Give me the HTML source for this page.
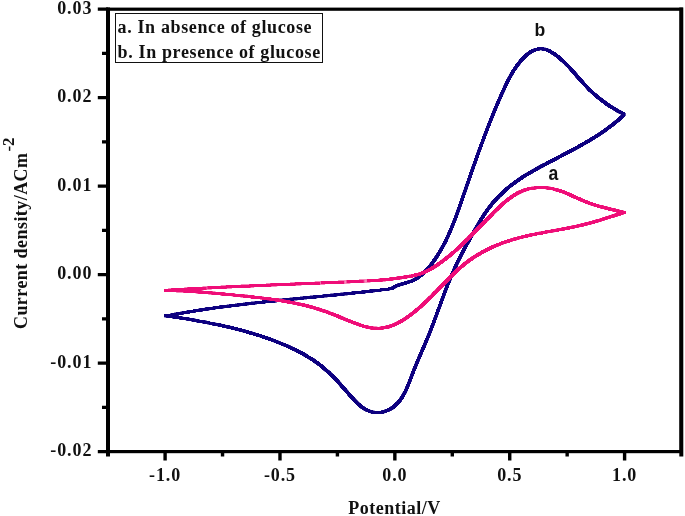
<!DOCTYPE html>
<html><head><meta charset="utf-8"><title>Cyclic voltammogram</title>
<style>
html,body{margin:0;padding:0;background:#fff}
svg{display:block;will-change:transform}
.s{font-family:"Liberation Serif",serif;font-weight:bold;font-size:18px;fill:#111}
.t{letter-spacing:.9px}
.a{font-family:"Liberation Sans",sans-serif;font-weight:bold;font-size:17.6px;fill:#111}
</style></head><body>
<svg width="685" height="516" viewBox="0 0 685 516">
<rect width="685" height="516" fill="#fff"/>
<rect x="108.00" y="9.20" width="573.30" height="442.40" fill="none" stroke="#000" stroke-width="3.2"/>
<path d="M108.00 7.60V456.5M681.30 7.60V456.5" stroke="#000" stroke-width="4" fill="none"/>
<path d="M97.8 9.20H108.00M102 53.44H108.00M97.8 97.68H108.00M102 141.92H108.00M97.8 186.16H108.00M102 230.40H108.00M97.8 274.64H108.00M102 318.88H108.00M97.8 363.12H108.00M102 407.36H108.00M97.8 451.60H108.00" stroke="#000" stroke-width="3.3" fill="none"/>
<path d="M165.10 451.60V460.6M222.54 451.60V456.5M279.98 451.60V460.6M337.41 451.60V456.5M394.85 451.60V460.6M452.29 451.60V456.5M509.73 451.60V460.6M567.16 451.60V456.5M624.60 451.60V460.6" stroke="#000" stroke-width="3.4" fill="none"/>
<filter id="sq" x="-5%" y="-5%" width="110%" height="110%"><feComponentTransfer><feFuncA type="linear" slope="4" intercept="-1.5"/></feComponentTransfer><feMorphology operator="dilate" radius="1"/></filter>
<path d="M165.6 315.8C166.3 315.7 168.3 315.5 169.7 315.3C171.0 315.1 172.3 314.8 173.7 314.6C175.0 314.3 176.4 314.1 177.7 313.8C179.0 313.6 180.4 313.3 181.7 313.1C183.1 312.9 184.4 312.6 185.7 312.4C187.1 312.2 188.4 311.9 189.8 311.7C191.1 311.5 192.5 311.3 193.8 311.1C195.2 310.8 196.5 310.6 197.8 310.4C199.2 310.2 200.5 310.0 201.9 309.8C203.2 309.6 204.6 309.4 205.9 309.2C207.3 309.0 208.6 308.8 210.0 308.6C211.3 308.4 212.7 308.2 214.0 308.0C215.4 307.8 216.7 307.6 218.1 307.5C219.4 307.3 220.8 307.1 222.1 306.9C223.5 306.7 224.8 306.6 226.2 306.4C227.5 306.2 228.9 306.0 230.2 305.9C231.6 305.7 232.9 305.5 234.3 305.3C235.6 305.2 237.0 305.0 238.3 304.9C239.7 304.7 241.0 304.5 242.4 304.4C243.7 304.2 245.1 304.0 246.4 303.9C247.8 303.7 249.1 303.6 250.5 303.4C251.8 303.3 253.2 303.1 254.5 303.0C255.9 302.8 257.2 302.7 258.6 302.5C260.0 302.4 261.3 302.2 262.7 302.1C264.0 301.9 265.4 301.8 266.7 301.7C268.1 301.5 269.4 301.4 270.8 301.2C272.1 301.1 273.5 301.0 274.8 300.8C276.2 300.7 277.6 300.5 278.9 300.4C280.3 300.3 281.6 300.1 283.0 300.0C284.3 299.9 285.7 299.7 287.0 299.6C288.4 299.5 289.8 299.3 291.1 299.2C292.5 299.1 293.8 298.9 295.2 298.8C296.5 298.7 297.9 298.5 299.2 298.4C300.6 298.3 302.0 298.1 303.3 298.0C304.7 297.9 306.0 297.7 307.4 297.6C308.7 297.5 310.1 297.3 311.4 297.2C312.8 297.1 314.2 297.0 315.5 296.8C316.9 296.7 318.2 296.6 319.6 296.4C320.9 296.3 322.3 296.2 323.6 296.0C325.0 295.9 326.3 295.8 327.7 295.6C329.1 295.5 330.4 295.4 331.8 295.2C333.1 295.1 334.5 295.0 335.8 294.8C337.2 294.7 338.5 294.6 339.9 294.4C341.3 294.3 342.6 294.1 344.0 294.0C345.3 293.9 346.7 293.7 348.0 293.6C349.4 293.4 350.7 293.3 352.1 293.2C353.4 293.0 354.8 292.9 356.1 292.7C357.5 292.6 358.9 292.4 360.2 292.3C361.6 292.1 362.9 292.0 364.3 291.8C365.6 291.7 367.0 291.5 368.3 291.4C369.7 291.2 371.0 291.1 372.4 290.9C373.7 290.8 375.1 290.6 376.4 290.5C377.8 290.3 379.1 290.1 380.5 290.0C381.8 289.8 383.2 289.6 384.5 289.5C385.9 289.3 387.2 289.2 388.6 289.0C389.9 288.7 391.9 288.2 392.6 288.1C393.2 287.8 394.8 286.6 396.0 286.0C397.2 285.5 398.5 285.1 399.8 284.6C401.1 284.2 402.5 283.9 403.8 283.5C405.1 283.1 406.5 282.7 407.8 282.3C409.1 281.9 410.4 281.5 411.7 281.0C412.9 280.4 414.2 279.9 415.3 279.2C416.5 278.6 417.6 277.9 418.7 277.1C419.8 276.3 420.9 275.5 421.9 274.6C422.9 273.8 423.9 272.8 424.8 271.9C425.8 270.9 426.7 270.0 427.6 268.9C428.5 267.9 429.3 266.9 430.2 265.8C431.0 264.8 431.8 263.7 432.6 262.6C433.4 261.5 434.2 260.4 435.0 259.3C435.7 258.2 436.5 257.1 437.2 256.0C437.9 254.8 438.6 253.7 439.3 252.5C440.0 251.4 440.7 250.2 441.4 249.1C442.0 247.9 442.7 246.7 443.3 245.5C443.9 244.4 444.5 243.2 445.2 242.0C445.8 240.8 446.3 239.6 446.9 238.3C447.5 237.1 448.1 235.9 448.6 234.7C449.2 233.5 449.7 232.2 450.3 231.0C450.8 229.7 451.3 228.5 451.8 227.2C452.3 226.0 452.8 224.7 453.3 223.5C453.8 222.2 454.3 221.0 454.8 219.7C455.3 218.4 455.8 217.1 456.3 215.9C456.7 214.6 457.2 213.3 457.7 212.0C458.1 210.8 458.6 209.5 459.0 208.2C459.5 206.9 459.9 205.6 460.4 204.3C460.8 203.1 461.3 201.8 461.7 200.5C462.2 199.2 462.6 197.9 463.0 196.6C463.5 195.3 463.9 194.0 464.4 192.8C464.8 191.5 465.3 190.2 465.7 188.9C466.1 187.6 466.6 186.3 467.0 185.0C467.5 183.8 467.9 182.5 468.4 181.2C468.8 179.9 469.3 178.6 469.7 177.4C470.1 176.1 470.6 174.8 471.0 173.5C471.5 172.2 471.9 171.0 472.4 169.7C472.8 168.4 473.3 167.1 473.7 165.8C474.2 164.6 474.6 163.3 475.1 162.0C475.5 160.7 476.0 159.5 476.4 158.2C476.9 156.9 477.4 155.6 477.8 154.4C478.3 153.1 478.7 151.8 479.2 150.6C479.7 149.3 480.1 148.0 480.6 146.7C481.0 145.5 481.5 144.2 482.0 142.9C482.4 141.7 482.9 140.4 483.4 139.1C483.9 137.9 484.3 136.6 484.8 135.4C485.3 134.1 485.8 132.8 486.3 131.6C486.7 130.3 487.2 129.1 487.7 127.8C488.2 126.5 488.7 125.3 489.2 124.0C489.7 122.8 490.2 121.5 490.7 120.3C491.2 119.0 491.7 117.8 492.2 116.5C492.7 115.3 493.2 114.0 493.7 112.8C494.2 111.5 494.7 110.3 495.3 109.0C495.8 107.8 496.3 106.5 496.8 105.3C497.3 104.1 497.9 102.8 498.4 101.6C498.9 100.3 499.5 99.1 500.0 97.9C500.6 96.6 501.1 95.4 501.6 94.2C502.2 92.9 502.7 91.7 503.3 90.5C503.9 89.3 504.4 88.0 505.0 86.8C505.6 85.6 506.1 84.4 506.7 83.2C507.3 81.9 507.9 80.7 508.6 79.5C509.2 78.3 509.8 77.1 510.5 76.0C511.1 74.8 511.8 73.6 512.5 72.4C513.2 71.3 513.9 70.1 514.7 69.0C515.4 67.8 516.2 66.7 517.0 65.6C517.9 64.5 518.7 63.4 519.6 62.3C520.5 61.2 521.4 60.2 522.3 59.1C523.3 58.1 524.3 57.1 525.3 56.1C526.3 55.2 527.4 54.3 528.5 53.5C529.6 52.6 530.7 51.9 531.8 51.3C533.0 50.6 534.1 50.1 535.3 49.7C536.5 49.3 537.7 49.0 539.0 48.8C540.2 48.7 541.5 48.7 542.7 48.9C544.0 49.0 545.3 49.4 546.5 49.8C547.8 50.2 549.0 50.8 550.2 51.4C551.4 52.1 552.6 52.8 553.7 53.6C554.9 54.4 556.0 55.2 557.1 56.1C558.2 56.9 559.2 57.8 560.3 58.7C561.3 59.6 562.3 60.5 563.3 61.4C564.3 62.4 565.3 63.3 566.2 64.3C567.2 65.2 568.1 66.2 569.1 67.2C570.0 68.2 570.9 69.2 571.8 70.2C572.7 71.2 573.6 72.2 574.5 73.2C575.4 74.2 576.3 75.3 577.2 76.3C578.1 77.3 579.0 78.3 579.9 79.3C580.8 80.4 581.7 81.4 582.6 82.4C583.5 83.4 584.4 84.4 585.3 85.4C586.2 86.4 587.2 87.3 588.1 88.3C589.1 89.3 590.0 90.2 591.0 91.1C592.0 92.1 593.0 93.0 594.0 93.9C595.0 94.8 596.0 95.7 597.0 96.6C598.1 97.4 599.1 98.3 600.2 99.1C601.3 99.9 602.3 100.8 603.4 101.6C604.5 102.4 605.6 103.2 606.7 103.9C607.8 104.7 609.0 105.5 610.1 106.2C611.2 106.9 612.4 107.6 613.5 108.3C614.7 109.0 615.9 109.7 617.0 110.4C618.2 111.1 619.4 111.7 620.6 112.4C621.8 113.0 623.6 113.9 624.2 114.2C623.7 114.7 622.4 116.3 621.5 117.2C620.5 118.2 619.5 119.0 618.5 119.9C617.4 120.8 616.4 121.6 615.4 122.5C614.3 123.3 613.3 124.2 612.2 125.0C611.2 125.8 610.1 126.6 609.0 127.4C608.0 128.2 606.9 129.0 605.8 129.8C604.7 130.6 603.6 131.3 602.5 132.1C601.4 132.8 600.3 133.6 599.2 134.3C598.1 135.1 596.9 135.8 595.8 136.5C594.7 137.2 593.6 137.9 592.4 138.6C591.3 139.3 590.1 140.0 589.0 140.7C587.8 141.4 586.7 142.1 585.5 142.7C584.3 143.4 583.2 144.1 582.0 144.7C580.8 145.4 579.7 146.1 578.5 146.7C577.3 147.4 576.1 148.0 574.9 148.7C573.8 149.3 572.6 149.9 571.4 150.6C570.2 151.2 569.0 151.8 567.8 152.5C566.6 153.1 565.4 153.7 564.2 154.3C563.0 155.0 561.8 155.6 560.6 156.2C559.5 156.8 558.3 157.4 557.1 158.1C555.9 158.7 554.7 159.3 553.5 159.9C552.3 160.6 551.1 161.2 549.9 161.8C548.7 162.4 547.5 163.0 546.3 163.7C545.1 164.3 543.9 164.9 542.7 165.6C541.5 166.2 540.3 166.8 539.1 167.5C538.0 168.1 536.8 168.7 535.6 169.4C534.4 170.1 533.3 170.7 532.1 171.4C530.9 172.1 529.8 172.7 528.6 173.4C527.5 174.1 526.3 174.8 525.2 175.5C524.0 176.2 522.9 176.9 521.8 177.7C520.7 178.4 519.6 179.1 518.5 179.9C517.3 180.6 516.3 181.4 515.2 182.2C514.1 183.0 513.0 183.8 512.0 184.6C510.9 185.4 509.9 186.3 508.8 187.1C507.8 188.0 506.8 188.9 505.8 189.7C504.8 190.6 503.8 191.5 502.8 192.5C501.8 193.4 500.9 194.3 499.9 195.3C499.0 196.2 498.1 197.2 497.1 198.2C496.2 199.2 495.3 200.2 494.4 201.2C493.5 202.2 492.7 203.2 491.8 204.2C491.0 205.3 490.1 206.3 489.3 207.4C488.5 208.5 487.7 209.5 486.9 210.6C486.1 211.7 485.4 212.8 484.6 213.9C483.9 215.0 483.1 216.2 482.4 217.3C481.7 218.4 480.9 219.6 480.2 220.7C479.5 221.9 478.9 223.0 478.2 224.2C477.5 225.3 476.8 226.5 476.1 227.7C475.5 228.8 474.8 230.0 474.1 231.2C473.5 232.3 472.8 233.5 472.2 234.7C471.5 235.9 470.9 237.0 470.2 238.2C469.6 239.4 468.9 240.6 468.3 241.7C467.6 242.9 467.0 244.1 466.3 245.3C465.7 246.4 465.1 247.6 464.4 248.8C463.8 250.0 463.2 251.1 462.6 252.3C461.9 253.5 461.3 254.7 460.7 255.9C460.1 257.1 459.5 258.3 458.9 259.5C458.3 260.7 457.7 261.9 457.1 263.1C456.6 264.3 456.0 265.5 455.4 266.7C454.9 267.9 454.3 269.1 453.8 270.4C453.2 271.6 452.7 272.8 452.1 274.1C451.6 275.3 451.1 276.5 450.6 277.8C450.0 279.0 449.5 280.3 449.0 281.5C448.5 282.8 448.0 284.0 447.5 285.3C447.0 286.5 446.5 287.8 446.0 289.0C445.6 290.3 445.1 291.6 444.6 292.8C444.1 294.1 443.6 295.3 443.2 296.6C442.7 297.9 442.2 299.1 441.8 300.4C441.3 301.7 440.8 302.9 440.4 304.2C439.9 305.5 439.4 306.7 439.0 308.0C438.5 309.3 438.0 310.5 437.6 311.8C437.1 313.1 436.6 314.3 436.2 315.6C435.7 316.9 435.2 318.1 434.8 319.4C434.3 320.7 433.8 321.9 433.4 323.2C432.9 324.4 432.4 325.7 431.9 326.9C431.4 328.2 431.0 329.4 430.5 330.7C430.0 331.9 429.5 333.1 429.0 334.4C428.5 335.6 428.0 336.8 427.5 338.1C427.0 339.3 426.5 340.5 425.9 341.8C425.4 343.0 424.9 344.2 424.4 345.4C423.9 346.6 423.3 347.9 422.8 349.1C422.3 350.3 421.8 351.5 421.2 352.7C420.7 354.0 420.2 355.2 419.6 356.4C419.1 357.6 418.6 358.9 418.1 360.1C417.5 361.3 417.0 362.6 416.5 363.8C416.0 365.1 415.5 366.3 415.0 367.6C414.4 368.8 413.9 370.1 413.4 371.4C412.9 372.6 412.4 373.9 411.9 375.2C411.4 376.5 411.0 377.8 410.5 379.1C410.0 380.4 409.5 381.7 409.0 382.9C408.5 384.2 408.0 385.5 407.4 386.8C406.9 388.0 406.3 389.3 405.8 390.5C405.2 391.8 404.6 393.0 403.9 394.1C403.3 395.3 402.6 396.5 401.9 397.6C401.2 398.7 400.4 399.8 399.6 400.8C398.8 401.8 398.0 402.8 397.0 403.7C396.1 404.7 395.1 405.6 394.1 406.4C393.0 407.2 391.9 408.0 390.8 408.7C389.6 409.4 388.4 410.0 387.2 410.5C385.9 411.0 384.6 411.5 383.3 411.8C382.0 412.1 380.7 412.4 379.4 412.5C378.1 412.6 376.7 412.6 375.4 412.5C374.1 412.3 372.8 412.1 371.5 411.8C370.3 411.4 369.0 411.0 367.8 410.5C366.6 410.0 365.5 409.4 364.4 408.7C363.3 408.0 362.2 407.3 361.1 406.5C360.1 405.7 359.1 404.8 358.1 403.9C357.1 403.0 356.1 402.0 355.1 401.0C354.2 400.1 353.2 399.0 352.3 398.0C351.4 397.0 350.5 395.9 349.5 394.9C348.6 393.8 347.7 392.7 346.8 391.7C345.9 390.7 345.0 389.6 344.1 388.6C343.2 387.5 342.3 386.5 341.4 385.5C340.5 384.5 339.6 383.5 338.6 382.5C337.7 381.5 336.8 380.5 335.9 379.5C335.0 378.6 334.0 377.6 333.1 376.7C332.1 375.7 331.2 374.8 330.2 373.9C329.3 373.0 328.3 372.1 327.3 371.2C326.3 370.3 325.3 369.4 324.3 368.5C323.3 367.7 322.3 366.8 321.3 366.0C320.2 365.2 319.2 364.4 318.1 363.6C317.0 362.8 315.9 362.0 314.9 361.3C313.8 360.5 312.7 359.8 311.5 359.1C310.4 358.3 309.3 357.6 308.1 356.9C307.0 356.2 305.9 355.5 304.7 354.9C303.5 354.2 302.4 353.5 301.2 352.9C300.0 352.3 298.8 351.6 297.6 351.0C296.4 350.4 295.2 349.8 294.0 349.2C292.8 348.6 291.6 348.0 290.3 347.5C289.1 346.9 287.9 346.4 286.6 345.8C285.4 345.3 284.1 344.7 282.9 344.2C281.6 343.7 280.4 343.2 279.1 342.7C277.9 342.2 276.6 341.7 275.4 341.2C274.1 340.7 272.8 340.2 271.6 339.8C270.3 339.3 269.0 338.8 267.8 338.4C266.5 337.9 265.2 337.5 263.9 337.1C262.7 336.6 261.4 336.2 260.1 335.8C258.8 335.4 257.5 335.0 256.3 334.6C255.0 334.2 253.7 333.8 252.4 333.4C251.1 333.0 249.8 332.6 248.5 332.3C247.2 331.9 246.0 331.5 244.7 331.2C243.4 330.8 242.1 330.5 240.8 330.1C239.5 329.8 238.2 329.4 236.9 329.1C235.6 328.8 234.3 328.4 233.0 328.1C231.7 327.8 230.4 327.5 229.1 327.2C227.7 326.9 226.4 326.6 225.1 326.3C223.8 326.0 222.5 325.7 221.2 325.4C219.9 325.1 218.6 324.8 217.3 324.6C215.9 324.3 214.6 324.0 213.3 323.8C212.0 323.5 210.7 323.2 209.4 323.0C208.0 322.7 206.7 322.5 205.4 322.2C204.1 322.0 202.8 321.7 201.4 321.5C200.1 321.2 198.8 321.0 197.5 320.8C196.2 320.5 194.8 320.3 193.5 320.1C192.2 319.8 190.9 319.6 189.5 319.4C188.2 319.2 186.9 319.0 185.5 318.7C184.2 318.5 182.9 318.3 181.6 318.1C180.2 317.9 178.9 317.7 177.6 317.5C176.3 317.3 174.9 317.1 173.6 316.9C172.3 316.7 170.9 316.4 169.6 316.3C168.3 316.1 166.3 315.9 165.6 315.8" fill="none" stroke="#0a0480" stroke-width="1.2" stroke-linejoin="round" stroke-linecap="round" filter="url(#sq)"/>
<path d="M165.6 290.5C166.3 290.4 168.3 290.3 169.6 290.2C171.0 290.1 172.3 290.0 173.7 289.9C175.0 289.8 176.4 289.8 177.7 289.7C179.1 289.6 180.4 289.5 181.8 289.4C183.1 289.3 184.5 289.3 185.8 289.2C187.2 289.1 188.5 289.0 189.9 288.9C191.2 288.9 192.6 288.8 193.9 288.7C195.3 288.6 196.6 288.6 198.0 288.5C199.3 288.4 200.7 288.3 202.0 288.3C203.4 288.2 204.7 288.1 206.1 288.0C207.4 288.0 208.8 287.9 210.1 287.8C211.5 287.7 212.8 287.7 214.2 287.6C215.5 287.5 216.9 287.5 218.2 287.4C219.6 287.3 220.9 287.3 222.3 287.2C223.6 287.1 225.0 287.1 226.3 287.0C227.7 286.9 229.0 286.9 230.4 286.8C231.7 286.7 233.1 286.7 234.4 286.6C235.8 286.6 237.1 286.5 238.5 286.4C239.8 286.4 241.2 286.3 242.5 286.2C243.8 286.2 245.2 286.1 246.5 286.1C247.9 286.0 249.2 285.9 250.6 285.9C251.9 285.8 253.3 285.8 254.6 285.7C256.0 285.7 257.3 285.6 258.7 285.5C260.0 285.5 261.4 285.4 262.7 285.4C264.1 285.3 265.4 285.2 266.8 285.2C268.1 285.1 269.5 285.1 270.8 285.0C272.2 285.0 273.5 284.9 274.9 284.9C276.2 284.8 277.6 284.7 278.9 284.7C280.3 284.6 281.6 284.6 283.0 284.5C284.3 284.5 285.7 284.4 287.0 284.4C288.4 284.3 289.7 284.2 291.1 284.2C292.4 284.1 293.8 284.1 295.1 284.0C296.5 284.0 297.8 283.9 299.2 283.9C300.5 283.8 301.9 283.7 303.2 283.7C304.6 283.6 305.9 283.6 307.3 283.5C308.6 283.5 310.0 283.4 311.4 283.4C312.7 283.3 314.1 283.2 315.4 283.2C316.8 283.1 318.1 283.1 319.5 283.0C320.8 283.0 322.2 282.9 323.5 282.8C324.9 282.8 326.2 282.7 327.6 282.7C328.9 282.6 330.3 282.6 331.6 282.5C333.0 282.4 334.3 282.4 335.7 282.3C337.0 282.3 338.4 282.2 339.7 282.1C341.1 282.1 342.4 282.0 343.8 282.0C345.1 281.9 346.5 281.8 347.8 281.8C349.2 281.7 350.5 281.6 351.9 281.6C353.2 281.5 354.6 281.4 355.9 281.4C357.3 281.3 358.6 281.2 360.0 281.2C361.3 281.1 362.6 281.0 364.0 281.0C365.3 280.9 366.7 280.8 368.0 280.8C369.4 280.7 370.7 280.6 372.1 280.6C373.4 280.5 374.8 280.4 376.1 280.3C377.4 280.3 378.8 280.2 380.1 280.1C381.5 280.0 382.8 279.9 384.2 279.8C385.5 279.7 386.8 279.5 388.2 279.4C389.5 279.2 390.9 279.1 392.2 278.9C393.5 278.7 394.9 278.5 396.2 278.3C397.6 278.2 398.9 278.0 400.3 277.8C401.6 277.6 402.9 277.4 404.3 277.2C405.6 277.0 406.9 276.7 408.3 276.5C409.6 276.3 410.9 276.0 412.2 275.8C413.5 275.5 414.8 275.3 416.1 274.9C417.4 274.6 418.7 274.3 420.0 273.9C421.2 273.5 422.5 273.0 423.7 272.5C425.0 272.0 426.2 271.4 427.4 270.8C428.6 270.2 429.8 269.6 431.0 268.9C432.2 268.2 433.4 267.5 434.5 266.8C435.7 266.0 436.8 265.3 437.9 264.5C439.1 263.7 440.2 262.9 441.3 262.1C442.4 261.3 443.5 260.4 444.6 259.6C445.6 258.8 446.7 257.9 447.8 257.1C448.8 256.2 449.9 255.3 450.9 254.5C451.9 253.6 452.9 252.7 454.0 251.9C455.0 251.0 456.0 250.1 457.0 249.2C458.0 248.3 458.9 247.4 459.9 246.5C460.9 245.6 461.9 244.7 462.8 243.7C463.8 242.8 464.8 241.9 465.7 241.0C466.7 240.0 467.6 239.1 468.6 238.2C469.5 237.2 470.5 236.3 471.4 235.3C472.4 234.4 473.3 233.4 474.2 232.5C475.2 231.5 476.1 230.6 477.0 229.6C478.0 228.7 478.9 227.7 479.9 226.7C480.8 225.8 481.7 224.8 482.7 223.8C483.6 222.9 484.6 221.9 485.5 220.9C486.4 219.9 487.4 219.0 488.3 218.0C489.3 217.0 490.3 216.0 491.2 215.1C492.2 214.1 493.1 213.1 494.1 212.1C495.1 211.2 496.1 210.2 497.1 209.2C498.1 208.3 499.1 207.3 500.1 206.4C501.1 205.4 502.1 204.5 503.1 203.6C504.2 202.7 505.2 201.8 506.3 200.9C507.3 200.1 508.4 199.2 509.5 198.4C510.6 197.6 511.7 196.8 512.8 196.1C513.9 195.3 515.0 194.6 516.2 194.0C517.3 193.3 518.5 192.7 519.7 192.1C520.9 191.5 522.1 191.0 523.3 190.5C524.6 190.1 525.8 189.7 527.1 189.3C528.4 188.9 529.7 188.6 531.0 188.4C532.3 188.1 533.7 187.9 535.0 187.8C536.3 187.6 537.7 187.5 539.0 187.5C540.4 187.5 541.7 187.5 543.1 187.5C544.5 187.6 545.8 187.7 547.2 187.9C548.5 188.0 549.8 188.2 551.2 188.5C552.5 188.7 553.8 189.0 555.1 189.4C556.4 189.7 557.7 190.1 559.0 190.5C560.3 190.9 561.5 191.4 562.8 191.8C564.1 192.3 565.3 192.8 566.6 193.3C567.8 193.9 569.1 194.4 570.3 194.9C571.5 195.5 572.8 196.1 574.0 196.6C575.3 197.2 576.5 197.7 577.7 198.3C579.0 198.9 580.2 199.4 581.5 200.0C582.7 200.5 584.0 201.0 585.2 201.5C586.5 202.1 587.7 202.6 589.0 203.0C590.3 203.5 591.5 203.9 592.8 204.3C594.1 204.8 595.4 205.2 596.7 205.5C598.0 205.9 599.3 206.3 600.6 206.6C601.9 207.0 603.2 207.3 604.5 207.7C605.8 208.0 607.1 208.3 608.4 208.6C609.8 209.0 611.1 209.3 612.4 209.6C613.7 209.9 615.0 210.2 616.3 210.6C617.6 210.9 618.9 211.2 620.2 211.5C621.6 211.9 623.5 212.3 624.2 212.4C623.6 212.6 621.7 213.3 620.4 213.7C619.1 214.1 617.8 214.5 616.5 214.9C615.3 215.3 614.0 215.7 612.7 216.1C611.4 216.5 610.1 216.9 608.8 217.3C607.6 217.7 606.3 218.1 605.0 218.5C603.7 218.9 602.4 219.3 601.1 219.8C599.9 220.2 598.6 220.6 597.3 220.9C596.0 221.3 594.7 221.7 593.4 222.1C592.1 222.5 590.8 222.8 589.5 223.2C588.2 223.5 586.9 223.9 585.6 224.2C584.3 224.5 583.0 224.8 581.7 225.1C580.4 225.4 579.1 225.7 577.8 226.0C576.5 226.3 575.1 226.6 573.8 226.9C572.5 227.1 571.2 227.4 569.9 227.7C568.5 227.9 567.2 228.2 565.9 228.4C564.6 228.7 563.3 228.9 561.9 229.2C560.6 229.4 559.3 229.6 558.0 229.9C556.6 230.1 555.3 230.4 554.0 230.6C552.6 230.8 551.3 231.1 550.0 231.3C548.7 231.6 547.3 231.8 546.0 232.0C544.7 232.3 543.4 232.5 542.0 232.8C540.7 233.0 539.4 233.3 538.1 233.5C536.8 233.8 535.4 234.1 534.1 234.3C532.8 234.6 531.5 234.9 530.2 235.2C528.9 235.5 527.6 235.8 526.2 236.1C524.9 236.4 523.6 236.7 522.3 237.0C521.0 237.3 519.7 237.7 518.4 238.0C517.1 238.3 515.8 238.7 514.5 239.1C513.3 239.5 512.0 239.8 510.7 240.2C509.4 240.6 508.1 241.1 506.8 241.5C505.6 241.9 504.3 242.4 503.0 242.8C501.8 243.3 500.5 243.8 499.3 244.3C498.0 244.7 496.8 245.3 495.5 245.8C494.3 246.3 493.0 246.8 491.8 247.4C490.6 248.0 489.4 248.5 488.2 249.1C487.0 249.7 485.8 250.3 484.6 251.0C483.4 251.6 482.2 252.2 481.0 252.9C479.9 253.6 478.7 254.2 477.5 254.9C476.4 255.6 475.3 256.3 474.1 257.1C473.0 257.8 471.9 258.6 470.8 259.3C469.7 260.1 468.6 260.9 467.5 261.7C466.5 262.5 465.4 263.3 464.4 264.2C463.3 265.0 462.3 265.9 461.3 266.8C460.2 267.7 459.2 268.6 458.2 269.5C457.2 270.4 456.2 271.3 455.3 272.2C454.3 273.1 453.3 274.1 452.3 275.0C451.4 276.0 450.4 276.9 449.5 277.9C448.5 278.8 447.6 279.8 446.6 280.8C445.7 281.7 444.8 282.7 443.8 283.7C442.9 284.6 442.0 285.6 441.0 286.6C440.1 287.5 439.2 288.5 438.3 289.4C437.3 290.4 436.4 291.3 435.5 292.3C434.5 293.2 433.6 294.2 432.7 295.1C431.7 296.1 430.8 297.0 429.8 298.0C428.9 298.9 427.9 299.8 426.9 300.8C426.0 301.7 425.0 302.6 424.0 303.5C423.0 304.4 422.0 305.4 421.0 306.3C420.0 307.2 419.0 308.1 418.0 308.9C416.9 309.8 415.9 310.7 414.8 311.6C413.7 312.4 412.7 313.3 411.6 314.1C410.5 315.0 409.4 315.8 408.3 316.6C407.1 317.4 406.0 318.2 404.9 318.9C403.7 319.7 402.5 320.4 401.4 321.1C400.2 321.7 399.0 322.4 397.8 323.0C396.6 323.6 395.4 324.2 394.2 324.7C393.0 325.2 391.7 325.7 390.5 326.1C389.3 326.5 388.0 326.9 386.7 327.2C385.5 327.5 384.2 327.7 382.9 327.9C381.6 328.1 380.3 328.2 379.0 328.3C377.7 328.3 376.4 328.3 375.1 328.2C373.8 328.1 372.5 328.0 371.1 327.8C369.8 327.6 368.5 327.3 367.1 327.0C365.8 326.7 364.5 326.3 363.1 326.0C361.8 325.6 360.5 325.2 359.2 324.7C357.8 324.3 356.5 323.8 355.2 323.3C353.9 322.8 352.6 322.3 351.3 321.8C350.1 321.3 348.8 320.8 347.5 320.2C346.3 319.7 345.0 319.2 343.8 318.7C342.5 318.1 341.3 317.6 340.1 317.1C338.8 316.6 337.6 316.1 336.3 315.6C335.1 315.1 333.9 314.6 332.6 314.1C331.4 313.6 330.1 313.1 328.9 312.7C327.6 312.2 326.4 311.7 325.1 311.3C323.9 310.9 322.6 310.5 321.3 310.1C320.1 309.6 318.8 309.2 317.5 308.9C316.2 308.5 315.0 308.1 313.7 307.7C312.4 307.4 311.1 307.0 309.8 306.7C308.5 306.3 307.2 306.0 305.9 305.7C304.6 305.4 303.3 305.0 302.0 304.7C300.7 304.4 299.4 304.1 298.1 303.9C296.8 303.6 295.5 303.3 294.2 303.0C292.8 302.8 291.5 302.5 290.2 302.3C288.9 302.0 287.6 301.8 286.2 301.5C284.9 301.3 283.6 301.1 282.3 300.9C280.9 300.6 279.6 300.4 278.3 300.2C276.9 300.0 275.6 299.8 274.3 299.6C272.9 299.4 271.6 299.2 270.2 299.0C268.9 298.9 267.6 298.7 266.2 298.5C264.9 298.3 263.5 298.2 262.2 298.0C260.9 297.8 259.5 297.7 258.2 297.5C256.8 297.4 255.5 297.2 254.1 297.1C252.8 296.9 251.5 296.8 250.1 296.6C248.8 296.5 247.4 296.3 246.1 296.2C244.7 296.1 243.4 295.9 242.0 295.8C240.7 295.7 239.4 295.5 238.0 295.4C236.7 295.3 235.3 295.2 234.0 295.0C232.6 294.9 231.3 294.8 230.0 294.7C228.6 294.5 227.3 294.4 225.9 294.3C224.6 294.1 223.3 294.0 221.9 293.9C220.6 293.8 219.3 293.7 217.9 293.5C216.6 293.4 215.3 293.3 213.9 293.2C212.6 293.1 211.3 292.9 209.9 292.8C208.6 292.7 207.3 292.6 205.9 292.5C204.6 292.4 203.3 292.3 201.9 292.2C200.6 292.1 199.3 292.0 197.9 291.9C196.6 291.8 195.3 291.7 193.9 291.6C192.6 291.5 191.2 291.4 189.9 291.3C188.6 291.3 187.2 291.2 185.9 291.1C184.5 291.0 183.2 291.0 181.8 290.9C180.5 290.9 179.1 290.8 177.8 290.8C176.5 290.7 175.1 290.7 173.7 290.6C172.4 290.6 171.0 290.6 169.7 290.6C168.3 290.5 166.3 290.5 165.6 290.5" fill="none" stroke="#ef0c78" stroke-width="1.2" stroke-linejoin="round" stroke-linecap="round" filter="url(#sq)"/>
<rect x="115.5" y="13.5" width="207" height="49" fill="#fff" stroke="#111" stroke-width="1"/>
<text class="s" x="117.6" y="32.6" textLength="194" lengthAdjust="spacing">a. In absence of glucose</text>
<text class="s" x="117.6" y="57.5" textLength="202.6" lengthAdjust="spacing">b. In presence of glucose</text>
<text class="s t" x="92.3" y="14.00" text-anchor="end">0.03</text>
<text class="s t" x="92.3" y="102.48" text-anchor="end">0.02</text>
<text class="s t" x="92.3" y="190.96" text-anchor="end">0.01</text>
<text class="s t" x="92.3" y="279.44" text-anchor="end">0.00</text>
<text class="s t" x="92.3" y="367.92" text-anchor="end">-0.01</text>
<text class="s t" x="92.3" y="456.40" text-anchor="end">-0.02</text>
<text class="s t" x="165.10" y="480.5" text-anchor="middle">-1.0</text>
<text class="s t" x="279.98" y="480.5" text-anchor="middle">-0.5</text>
<text class="s t" x="394.85" y="480.5" text-anchor="middle">0.0</text>
<text class="s t" x="509.73" y="480.5" text-anchor="middle">0.5</text>
<text class="s t" x="624.60" y="480.5" text-anchor="middle">1.0</text>
<text class="s" x="348.2" y="513.8" textLength="92" lengthAdjust="spacing">Potential/V</text>
<text class="s" transform="translate(27 329) rotate(-90)" textLength="176" lengthAdjust="spacing">Current density/ACm</text>
<text class="s" transform="translate(14.4 151.6) rotate(-90)" style="font-size:17px">-2</text>
<text class="a" transform="translate(534.6 35.7) scale(1 1.08)">b</text>
<text class="a" transform="translate(548.6 179.7) scale(1 1.15)">a</text>
</svg>
</body></html>
